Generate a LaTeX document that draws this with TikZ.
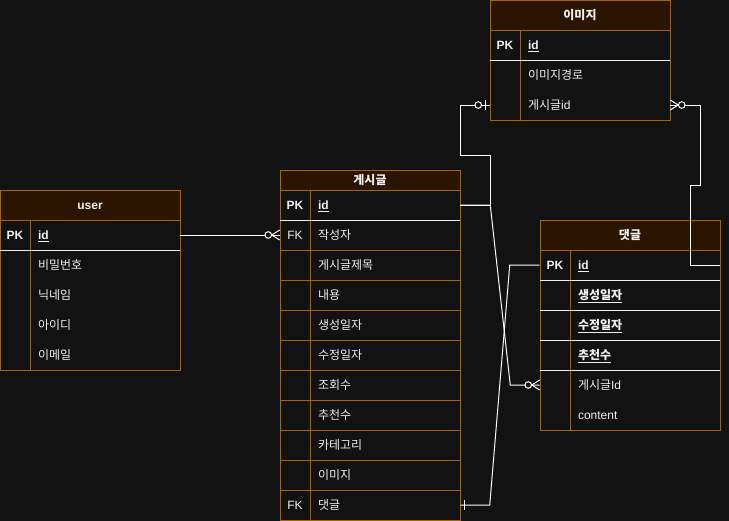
\documentclass[tikz,border=0pt]{standalone}
\usepackage{fontspec}
\setmainfont{Liberation Sans}
\newfontfamily\kr{Noto Sans CJK KR}
\definecolor{bg}{HTML}{121212}
\definecolor{ostroke}{HTML}{AB6200}
\definecolor{ofill}{HTML}{2B1400}
\definecolor{fg}{HTML}{F0F0F0}
\newcommand\pkf[1]{\textbf{\underline{#1}}}
\begin{document}
\begin{tikzpicture}[x=0.75pt,y=-0.75pt,
  every node/.style={font=\fontsize{9pt}{11pt}\selectfont, text=fg, text height=8pt, text depth=1.6pt},
  hdr/.style={font=\fontsize{9pt}{11pt}\selectfont\bfseries, inner sep=0pt},
  keycell/.style={minimum width=22.5pt, minimum height=22.5pt, inner sep=0pt},
  fieldcell/.style={minimum width=112.5pt, minimum height=22.5pt, text width=100.5pt, inner xsep=6pt, inner ysep=0pt, align=left},
  frame/.style={draw=ostroke, line width=0.75pt},
  hdrbox/.style={draw=ostroke, fill=ofill, line width=0.75pt},
  sepw/.style={draw=fg, line width=0.75pt},
  conn/.style={draw=white, line width=0.75pt},
  zmany/.pic={\draw[conn] (-8,0) -- (0,-5) (-8,0) -- (0,5); \draw[conn, fill=bg] (-11.5,0) circle[radius=3.3];},
  zone/.pic={\draw[conn] (-4,-5) -- (-4,5); \draw[conn, fill=bg] (-11.5,0) circle[radius=3.3];},
  oneb/.pic={\draw[conn] (-4,-5) -- (-4,5);},
]
\fill[bg] (0,0) rectangle (729,521);
\useasboundingbox (0,0) rectangle (729,521);

% ---------- user ----------
\draw[hdrbox] (0,190) rectangle (180,220);
\node[hdr] (u-h) at (90,205) {user};
\draw[frame] (0,220) rectangle (180,370);
\draw[frame] (30,220) -- (30,370);
\draw[sepw] (0,250) -- (180,250);
\foreach \i/\k/\f in {0/\textbf{PK}/\pkf{id}, 1//{\kr 비밀번호}, 2//{\kr 닉네임}, 3//{\kr 아이디}, 4//{\kr 이메일}}{
  \node[keycell] (u-k\i) at (15,235+30*\i) {\k};
  \node[fieldcell] (u-f\i) at (105,235+30*\i) {\f};
}

% ---------- 이미지 ----------
\draw[hdrbox] (490,0.5) rectangle (670,30);
\node[hdr] (i-h) at (580,15) {\kr 이미지};
\draw[frame] (490,30) rectangle (670,120);
\draw[frame] (520,30) -- (520,120);
\draw[sepw] (490,60) -- (670,60);
\foreach \i/\k/\f in {0/\textbf{PK}/\pkf{id}, 1//{\kr 이미지경로}, 2//{{\kr 게시글}id}}{
  \node[keycell] (i-k\i) at (505,45+30*\i) {\k};
  \node[fieldcell] (i-f\i) at (595,45+30*\i) {\f};
}

% ---------- 게시글 ----------
\draw[hdrbox] (280,170) rectangle (460,190);
\node[hdr] (g-h) at (370,180) {\kr 게시글};
\draw[frame] (280,190) rectangle (460,520);
\draw[frame] (310,190) -- (310,520);
\foreach \yy in {250,280,...,490}{\draw[frame] (280,\yy) -- (460,\yy);}
\draw[sepw] (280,220) -- (460,220);
\foreach \i/\k/\f in {0/\textbf{PK}/\pkf{id}, 1/FK/{\kr 작성자}, 2//{\kr 게시글제목}, 3//{\kr 내용}, 4//{\kr 생성일자}, 5//{\kr 수정일자}, 6//{\kr 조회수}, 7//{\kr 추천수}, 8//{\kr 카테고리}, 9//{\kr 이미지}, 10/FK/{\kr 댓글}}{
  \node[keycell] (g-k\i) at (295,205+30*\i) {\k};
  \node[fieldcell] (g-f\i) at (385,205+30*\i) {\f};
}

% ---------- 댓글 ----------
\draw[hdrbox] (540,220) rectangle (720,250);
\node[hdr] (d-h) at (630,235) {\kr 댓글};
\draw[frame] (540,250) rectangle (720,430);
\draw[frame] (570,250) -- (570,430);
\foreach \yy in {280,310,340,370}{\draw[sepw] (540,\yy) -- (720,\yy);}
\foreach \i/\k/\f in {0/\textbf{PK}/\pkf{id}, 1//{\kr\pkf{생성일자}}, 2//{\kr\pkf{수정일자}}, 3//{\kr\pkf{추천수}}, 4//{{\kr 게시글}Id}, 5//content}{
  \node[keycell] (d-k\i) at (555,265+30*\i) {\k};
  \node[fieldcell] (d-f\i) at (645,265+30*\i) {\f};
}

% ---------- connectors ----------
\draw[conn] (u-f0.east) -- (g-k1.west);
\pic at (g-k1.west) {zmany};

\draw[conn] (g-f0.east) -- ++(30,0) -- ++(0,-50) -- ++(-30,0) |- (i-k2.west);
\pic at (i-k2.west) {zone};

\draw[conn] (g-f0.east) -- ++(30,0) -- ++(20,180) -- (d-k4.west);
\pic at (d-k4.west) {zmany};

\draw[conn] (d-k0.west) -- ++(-30,0) -- ++(-20,240) -- (g-f10.east);
\pic[rotate=180] at (g-f10.east) {oneb};

\draw[conn] (i-f2.east) -- ++(30,0) -- ++(0,80) -- ++(-10,0) |- (d-f0.east);
\pic[rotate=180] at (i-f2.east) {zmany};
\end{tikzpicture}
\end{document}
